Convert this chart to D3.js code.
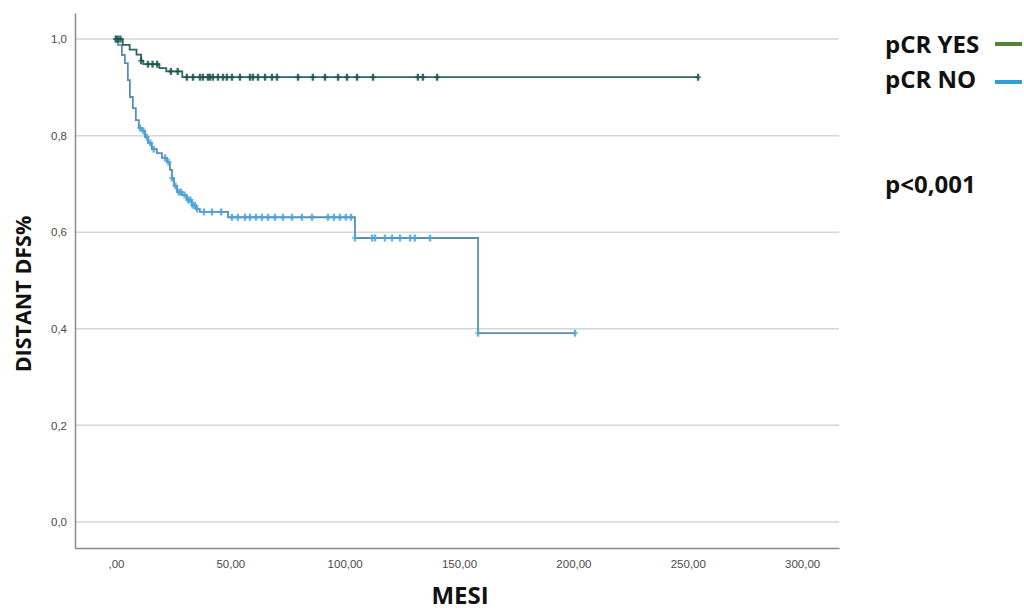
<!DOCTYPE html>
<html>
<head>
<meta charset="utf-8">
<script src="https://cdn.jsdelivr.net/npm/d3@7"></script>
<style>
  body { margin: 0; background: #fff; }
  svg { display: block; }
</style>
</head>
<body>
<div id="chart"></div>
<script>
// chart size
var width = 1024;
var height = 610;

// Kaplan-Meier steps (months, survival)
const yesTimes = [0, 3, 6, 9, 11, 12, 19, 22, 29];
const yesSurv  = [1.0, 0.988, 0.978, 0.968, 0.955, 0.948, 0.94, 0.933, 0.921];
const yesEnd = 254.5;
const yesCensored = [0, 1, 2, 11, 14, 16, 18, 24, 27, 31, 33.7, 36.7, 38, 40.2, 41.1, 42.4, 44.6, 46.8,
  48.5, 50.7, 54.2, 58.6, 59.9, 62.1, 65.2, 68.2, 70.4, 79.6, 86.1, 91.4, 97.1, 101, 105.4, 112.4,
  132, 134.2, 140.4, 254.5];

const noTimes = [0, 0.9, 2.6, 3.9, 5.2, 6.1, 7.4, 8.7, 10, 11.4, 12.7, 14, 15.7, 17.9, 20.1, 22.3,
  23.6, 24.5, 25.4, 26.7, 28.9, 31, 33.2, 35, 36.7, 49, 104.5, 158.3];
const noSurv = [1.0, 0.988, 0.967, 0.95, 0.915, 0.88, 0.857, 0.832, 0.816, 0.81, 0.797, 0.785, 0.772,
  0.764, 0.754, 0.745, 0.729, 0.712, 0.696, 0.683, 0.677, 0.667, 0.656, 0.648, 0.642, 0.631, 0.588, 0.391];
const noEnd = 200.7;
const noCensored = [0, 10.5, 12, 13.5, 15, 16.5, 21.5, 23, 24.5, 26, 27.5, 28.5, 30, 31.5, 32.5, 33.5,
  34.5, 35.5, 38.5, 42, 46, 50.7, 53.3, 56.4, 58.6, 61.2, 63.8, 66.5, 69.5, 73, 77, 81.3, 85.7, 92.7,
  95.3, 97.9, 100.5, 102.8, 104.5, 112, 113.3, 117.6, 120.7, 124.2, 128.6, 130.7, 137.3, 158.3, 200.7];

// axis ticks
const xTicks = [0, 50, 100, 150, 200, 250, 300];
const xTickLabels = [",00", "50,00", "100,00", "150,00", "200,00", "250,00", "300,00"];
const yTicks = [0, 0.2, 0.4, 0.6, 0.8, 1.0];
const yTickLabels = ["0,0", "0,2", "0,4", "0,6", "0,8", "1,0"];

// legend
const legendNames = ["pCR YES", "pCR NO"];
const legendColors = ["#548235", "#2e9fd8"];

let svg = d3.select("#chart")
  .append("svg")
  .attr("width", width)
  .attr("height", height);

let x = d3.scaleLinear().domain([-17.9, 316.1]).range([75, 839]);
let y = d3.scaleLinear().domain([-0.054, 1.054]).range([548, 13]);

// gridlines
svg.append("g")
  .selectAll("line")
  .data(yTicks)
  .enter()
  .append("line")
  .attr("x1", x.range()[0])
  .attr("x2", x.range()[1])
  .attr("y1", d => y(d))
  .attr("y2", d => y(d))
  .style("stroke", "#d6d6d6")
  .style("stroke-width", 1.5);

// y axis
let yAxis = svg.append("g")
  .attr("transform", "translate(75,0)")
  .call(d3.axisLeft(y).tickValues(yTicks).tickSize(0).tickPadding(8)
    .tickFormat((d, i) => yTickLabels[i]));
yAxis.select(".domain").style("stroke", "#8a8a8a").style("stroke-width", 1.5);
yAxis.selectAll("text").style("font-family", "Liberation Sans, Arial").style("font-size", "11.5px").style("fill", "#4a4a4a");

// x axis
let xAxis = svg.append("g")
  .attr("transform", "translate(0,548)")
  .call(d3.axisBottom(x).tickValues(xTicks).tickSize(0).tickPadding(12)
    .tickFormat((d, i) => xTickLabels[i]));
xAxis.select(".domain").style("stroke", "#8a8a8a").style("stroke-width", 1.5);
xAxis.selectAll("text").style("font-family", "Liberation Sans, Arial").style("font-size", "11.5px").style("fill", "#4a4a4a");

// step line helper
function stepPoints(times, surv, end) {
  let pts = times.map((t, i) => [t, surv[i]]);
  pts.push([end, surv[surv.length - 1]]);
  return pts;
}
function survAt(times, surv, t) {
  let s = surv[0];
  times.forEach((tt, i) => { if (tt <= t) s = surv[i]; });
  return s;
}

let line = d3.line()
  .x(d => x(d[0]))
  .y(d => y(d[1]))
  .curve(d3.curveStepAfter);

const curves = [
  { times: noTimes, surv: noSurv, end: noEnd, cens: noCensored, line: "#5a8fb2", mark: "#49a6de" },
  { times: yesTimes, surv: yesSurv, end: yesEnd, cens: yesCensored, line: "#2f6660", mark: "#1b554d" }
];

curves.forEach(c => {
  svg.append("path")
    .datum(stepPoints(c.times, c.surv, c.end))
    .attr("d", line)
    .style("fill", "none")
    .style("stroke", c.line)
    .style("stroke-width", 1.8);

  // censor marks (+)
  let g = svg.append("g");
  c.cens.forEach(d => {
    let cx = x(d), cy = y(survAt(c.times, c.surv, d));
    g.append("line")
      .attr("x1", cx).attr("x2", cx)
      .attr("y1", cy - 3.5).attr("y2", cy + 3.5)
      .style("stroke", c.mark)
      .style("stroke-width", 2.4)
      .style("opacity", 0.85);
    g.append("line")
      .attr("x1", cx - 3).attr("x2", cx + 3)
      .attr("y1", cy).attr("y2", cy)
      .style("stroke", c.mark)
      .style("stroke-width", 2)
      .style("opacity", 0.6);
  });
});

// axis titles
svg.append("text")
  .attr("text-anchor", "middle")
  .attr("x", 460)
  .attr("y", 604)
  .style("font-family", "Open Sans, sans-serif")
  .style("font-weight", "bold")
  .style("font-size", "24px")
  .style("fill", "#111")
  .text("MESI");

svg.append("text")
  .attr("text-anchor", "middle")
  .attr("transform", "translate(31,294) rotate(-90)")
  .style("font-family", "Open Sans, sans-serif")
  .style("font-weight", "bold")
  .style("font-size", "21.5px")
  .style("fill", "#111")
  .text("DISTANT DFS%");

// legend
legendNames.forEach((name, i) => {
  svg.append("text")
    .attr("x", 885)
    .attr("y", 53 + i * 35)
    .style("font-family", "Open Sans, sans-serif")
    .style("font-weight", "bold")
    .style("font-size", "24px")
    .style("fill", "#111")
    .text(name);
  svg.append("line")
    .attr("x1", 995)
    .attr("x2", 1022)
    .attr("y1", 44 + i * 38)
    .attr("y2", 44 + i * 38)
    .style("stroke", legendColors[i])
    .style("stroke-width", 4);
});

svg.append("text")
  .attr("x", 885)
  .attr("y", 193)
  .style("font-family", "Open Sans, sans-serif")
  .style("font-weight", "bold")
  .style("font-size", "24px")
  .style("fill", "#111")
  .text("p<0,001");
</script>
</body>
</html>
